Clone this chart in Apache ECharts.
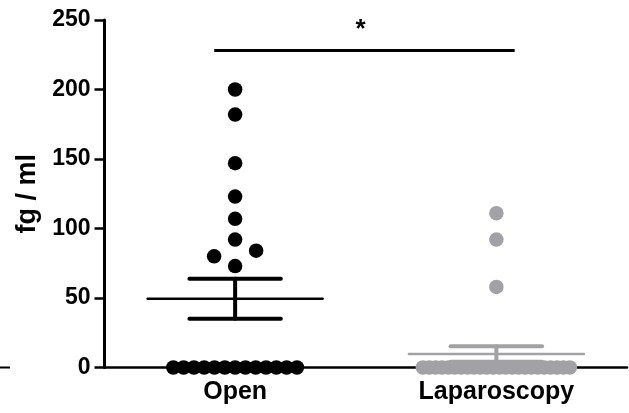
<!DOCTYPE html>
<html>
<head>
<meta charset="utf-8">
<script src="https://cdn.jsdelivr.net/npm/echarts@6/dist/echarts.min.js"></script>
<style>
html,body{margin:0;padding:0;background:#fff;}
#chart{width:629px;height:413px;}
</style>
</head>
<body>
<div id="chart"></div>
<script>
// ---- data ----
const categories = ['Open', 'Laparoscopy'];
const openValues = [200, 182, 147, 123, 107, 92, 84, 80, 73,
  0, 0, 0, 0, 0, 0, 0, 0, 0, 0, 0, 0, 0];
const lapValues = [111, 92, 58,
  0, 0, 0, 0, 0, 0, 0, 0, 0, 0, 0, 0, 0, 0, 0, 0, 0, 0, 0, 0, 0, 0, 0, 0];
const yTicks = [0, 50, 100, 150, 200, 250];
const sigLevel = 228;
const sigLabel = '*';
const yAxisName = 'fg / ml';

// ---- style / layout ----
const FONT = '"Liberation Sans", Arial, sans-serif';
const colors = ['#000000', '#a2a2a6'];
const grid = {left: 104.5, top: 20, right: 2, bottom: 45.5};
const H = 413;
const gridH = H - grid.top - grid.bottom;
const yMin = yTicks[0], yMax = yTicks[yTicks.length - 1];
const pxPerUnit = gridH / (yMax - yMin);
const DOT = 14.5;

function stats(arr) {
  const n = arr.length;
  const mean = arr.reduce((a, b) => a + b, 0) / n;
  const sd = Math.sqrt(arr.reduce((a, b) => a + (b - mean) * (b - mean), 0) / (n - 1));
  return {mean, sem: sd / Math.sqrt(n)};
}

// layout of dots: identical zero values spread in a row; others placed as a swarm
function layout(values, catIdx) {
  const out = [];
  const zeros = values.filter(v => v === 0);
  const nz = values.filter(v => v !== 0).sort((a, b) => a - b);
  const n = zeros.length;
  const step = n > 1 ? Math.min(10.3, 147 / (n - 1)) : 0;
  zeros.forEach((v, i) => {
    out.push({value: [catIdx, v], symbolOffset: [(i - (n - 1) / 2) * step, 0]});
  });
  const placed = [];
  const s = 21;
  nz.forEach(v => {
    const y = v * pxPerUnit;
    const cands = [0, -s, s, -2 * s, 2 * s, -3 * s, 3 * s];
    let dx = 0;
    for (const c of cands) {
      const hit = placed.some(p => Math.hypot(p.dx - c, p.y - y) < 16);
      if (!hit) { dx = c; break; }
    }
    placed.push({dx, y});
    out.push({value: [catIdx, v], symbolOffset: [dx, 0]});
  });
  return out;
}

const groups = [openValues, lapValues];
const meanSemData = groups.map((g, i) => {
  const st = stats(g);
  return [i, st.mean, st.sem];
});

const chart = echarts.init(document.getElementById('chart'), null, {renderer: 'canvas'});
chart.setOption({
  animation: false,
  backgroundColor: '#ffffff',
  grid: grid,
  xAxis: {
    type: 'category',
    data: categories,
    boundaryGap: true,
    axisLine: {lineStyle: {color: '#000', width: 2.5}},
    axisTick: {alignWithLabel: true, length: 10, lineStyle: {color: '#000', width: 2}},
    axisLabel: {color: '#000', fontSize: 25, fontWeight: 'bold', fontFamily: FONT, margin: 12},
    splitLine: {show: false}
  },
  yAxis: {
    type: 'value',
    min: yMin, max: yMax, interval: 50,
    name: yAxisName,
    nameLocation: 'middle',
    nameGap: 63,
    nameTextStyle: {color: '#000', fontSize: 27, fontWeight: 'bold', fontFamily: FONT},
    axisLine: {show: true, lineStyle: {color: '#000', width: 3}},
    axisTick: {show: true, length: 10, lineStyle: {color: '#000', width: 2.5}},
    axisLabel: {color: '#000', fontSize: 23, fontWeight: 'bold', fontFamily: FONT, margin: 14},
    splitLine: {show: false}
  },
  graphic: [{
    type: 'line', shape: {x1: 0, y1: H - grid.bottom, x2: 10, y2: H - grid.bottom},
    style: {stroke: '#000', lineWidth: 2}
  }],
  series: [
    {
      type: 'custom',
      name: 'meanSem',
      z: 1,
      data: meanSemData,
      renderItem: function (params, api) {
        const c = api.value(0), mean = api.value(1), sem = api.value(2);
        const band = api.size([1, 0])[0];
        const pm = api.coord([c, mean]);
        const pu = api.coord([c, mean + sem]);
        const pl = api.coord([c, mean - sem]);
        const col = colors[c];
        const hw = band * 0.335, cw = band * 0.175;
        const ln = (x1, y1, x2, y2, w) => ({type: 'line', shape: {x1, y1, x2, y2},
          style: {stroke: col, lineWidth: w, lineCap: 'round'}});
        return {type: 'group', children: [
          ln(pm[0] - hw, pm[1], pm[0] + hw, pm[1], 2.5),
          ln(pu[0], pu[1], pl[0], pl[1], 4),
          ln(pu[0] - cw, pu[1], pu[0] + cw, pu[1], 4),
          ln(pl[0] - cw, pl[1], pl[0] + cw, pl[1], 4)
        ]};
      }
    },
    {
      type: 'scatter', name: categories[0], z: 3,
      symbol: 'circle', symbolSize: DOT,
      itemStyle: {color: colors[0], opacity: 1},
      data: layout(openValues, 0)
    },
    {
      type: 'scatter', name: categories[1], z: 3,
      symbol: 'circle', symbolSize: DOT,
      itemStyle: {color: colors[1], opacity: 1},
      data: layout(lapValues, 1)
    },
    {
      type: 'custom',
      name: 'significance',
      z: 4,
      data: [[sigLevel]],
      renderItem: function (params, api) {
        const y = api.value(0);
        const band = api.size([1, 0])[0];
        const p0 = api.coord([0, y]);
        const p1 = api.coord([1, y]);
        const x1 = p0[0] - band * 0.08, x2 = p1[0] + band * 0.07;
        return {type: 'group', children: [
          {type: 'line', shape: {x1: x1, y1: p0[1], x2: x2, y2: p0[1]},
            style: {stroke: '#000', lineWidth: 3}},
          {type: 'text', x: (x1 + x2) / 2 - 4, y: p0[1] - 21,
            style: {text: sigLabel, font: 'bold 26px ' + FONT, fill: '#000',
              textAlign: 'center', textVerticalAlign: 'middle'}}
        ]};
      }
    }
  ]
});
</script>
</body>
</html>
